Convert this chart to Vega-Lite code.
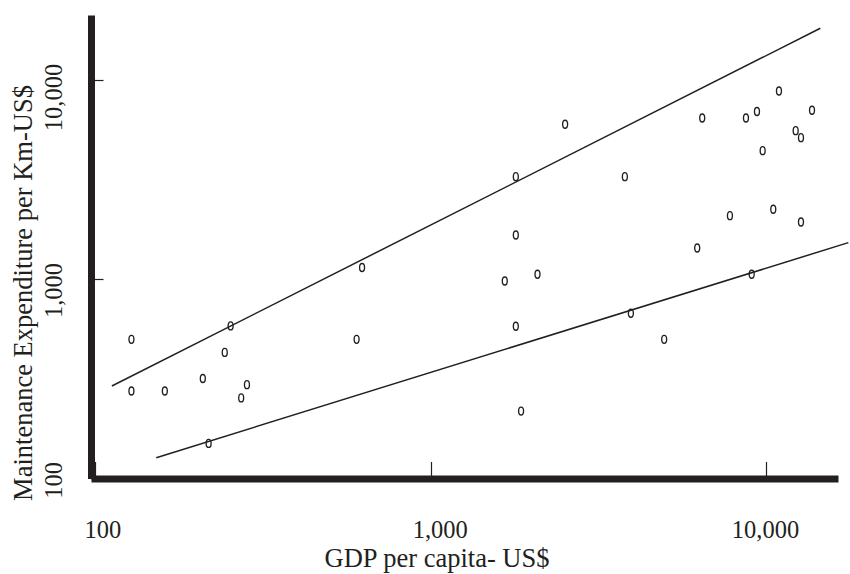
{
  "$schema": "https://vega.github.io/schema/vega-lite/v6.json",
  "width": 747,
  "height": 463.5,
  "autosize": {"type": "none"},
  "padding": {"left": 91, "top": 15, "right": 12, "bottom": 95.5},
  "background": "white",
  "config": {"view": {"stroke": null}, "font": "Liberation Serif"},
  "datasets": {
    "countries": [
      {"gdp": 128, "maint": 500},
      {"gdp": 128, "maint": 275},
      {"gdp": 161, "maint": 275},
      {"gdp": 209, "maint": 318},
      {"gdp": 243, "maint": 430},
      {"gdp": 253, "maint": 584},
      {"gdp": 272, "maint": 254},
      {"gdp": 283, "maint": 296},
      {"gdp": 217.5, "maint": 150},
      {"gdp": 601, "maint": 500},
      {"gdp": 624, "maint": 1148},
      {"gdp": 1663, "maint": 982},
      {"gdp": 1794, "maint": 3282},
      {"gdp": 1794, "maint": 1672},
      {"gdp": 1794, "maint": 582},
      {"gdp": 2082, "maint": 1061},
      {"gdp": 1860, "maint": 218},
      {"gdp": 2517, "maint": 6015},
      {"gdp": 3794, "maint": 3282},
      {"gdp": 3954, "maint": 676},
      {"gdp": 4970, "maint": 500},
      {"gdp": 6236, "maint": 1438},
      {"gdp": 6454, "maint": 6470},
      {"gdp": 7808, "maint": 2090},
      {"gdp": 8717, "maint": 6470},
      {"gdp": 9066, "maint": 1061},
      {"gdp": 9401, "maint": 6976},
      {"gdp": 9776, "maint": 4433},
      {"gdp": 10515, "maint": 2251},
      {"gdp": 10934, "maint": 8843},
      {"gdp": 12264, "maint": 5587},
      {"gdp": 12719, "maint": 5152},
      {"gdp": 12719, "maint": 1943},
      {"gdp": 13720, "maint": 7073}
    ],
    "fits": [
      {"band": "upper", "gdp": 111.9, "maint": 291.5},
      {"band": "upper", "gdp": 14527, "maint": 18260},
      {"band": "lower", "gdp": 151.8, "maint": 127.2},
      {"band": "lower", "gdp": 17610, "maint": 1530}
    ]
  },
  "layer": [
    {
      "data": {"name": "fits"},
      "mark": {"type": "line", "color": "#231f20", "strokeWidth": 1.5, "clip": false},
      "encoding": {
        "x": {
          "field": "gdp", "type": "quantitative",
          "scale": {"type": "log", "domain": [96.96, 16402], "nice": false, "zero": false},
          "axis": {
            "title": "GDP per capita- US$",
            "values": [100, 1000, 10000],
            "format": ",",
            "grid": false,
            "domainColor": "#231f20", "domainWidth": 7, "domainCap": "butt",
            "tickColor": "#231f20", "tickWidth": 1.2, "tickSize": -17,
            "labelFont": "Liberation Serif", "labelFontSize": 24.5, "labelColor": "#231f20",
            "labelAngle": 0, "labelAlign": "center", "labelBaseline": "alphabetic",
            "labelPadding": 75.5,
            "labelOffset": {"expr": "datum.value >= 10000 ? -1 : (datum.value >= 1000 ? 9 : 7)"},
            "labelFlush": false, "labelOverlap": false, "labelBound": false,
            "titleFont": "Liberation Serif", "titleFontSize": 26.5, "titleFontWeight": "normal", "titleColor": "#231f20",
            "titleX": 345.5, "titleY": 87.5, "titleAlign": "center", "titleBaseline": "alphabetic", "titleAngle": 0
          }
        },
        "y": {
          "field": "maint", "type": "quantitative",
          "scale": {"type": "log", "domain": [100, 21290], "nice": false, "zero": false},
          "axis": {
            "title": "Maintenance Expenditure per Km-US$",
            "values": [100, 1000, 10000],
            "format": ",",
            "grid": false,
            "domainColor": "#231f20", "domainWidth": 7, "domainCap": "butt",
            "tickColor": "#231f20", "tickWidth": 1.2, "tickSize": -12,
            "labelFont": "Liberation Serif", "labelFontSize": 24.5, "labelColor": "#231f20",
            "labelAngle": -90, "labelAlign": "right", "labelBaseline": "alphabetic",
            "labelPadding": 41.5, "labelOffset": -17,
            "labelFlush": false, "labelOverlap": false, "labelBound": false,
            "titleFont": "Liberation Serif", "titleFontSize": 26.5, "titleFontWeight": "normal", "titleColor": "#231f20",
            "titleX": -60, "titleY": 277.5, "titleAlign": "center", "titleBaseline": "alphabetic", "titleAngle": -90
          }
        },
        "detail": {"field": "band", "type": "nominal"}
      }
    },
    {
      "data": {"name": "countries"},
      "mark": {
        "type": "point",
        "shape": "M0,-1A0.62,1 0 1,1 0,1A0.62,1 0 1,1 0,-1Z",
        "filled": false, "color": "#231f20", "strokeWidth": 1.35, "size": 64, "opacity": 1
      },
      "encoding": {
        "x": {"field": "gdp", "type": "quantitative", "scale": {"type": "log", "domain": [96.96, 16402], "nice": false, "zero": false}},
        "y": {"field": "maint", "type": "quantitative", "scale": {"type": "log", "domain": [100, 21290], "nice": false, "zero": false}}
      }
    }
  ]
}
